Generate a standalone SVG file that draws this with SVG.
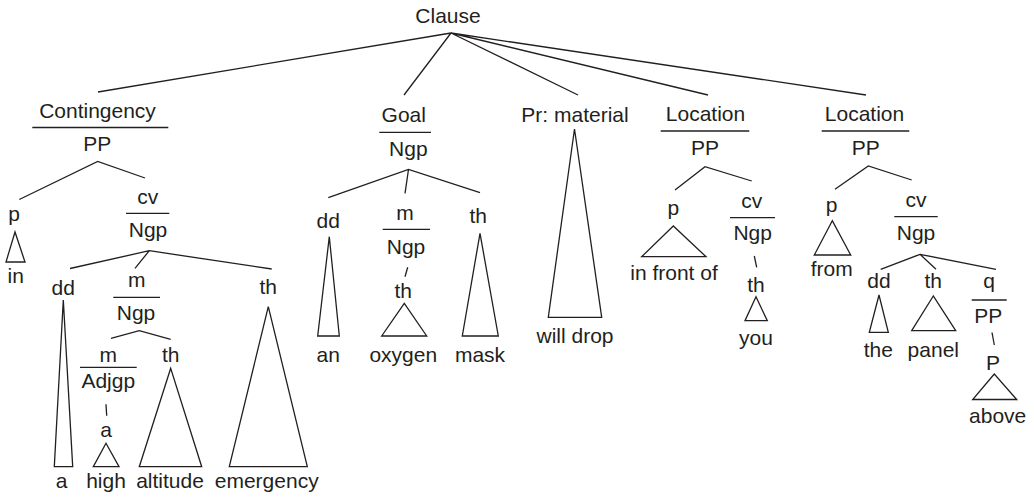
<svg xmlns="http://www.w3.org/2000/svg" width="1034" height="498" viewBox="0 0 1034 498">
<style>
text{font-family:"Liberation Sans",Arial,sans-serif;font-size:21px;fill:#231f20;text-anchor:middle}
.e{stroke:#231f20;stroke-width:1.3;fill:none}
.u{stroke:#231f20;stroke-width:1.3}
</style>
<rect width="1034" height="498" fill="#fff"/>
<g id="connectors" class="e">
<path d="M451 33L98 92M451 33L404 95M451 33L578 95M451 33L708 95M451 33L866 95"/>
<path d="M19.3 199.5L97.7 161.5L145 178"/>
<path d="M70 268.5L149.3 250.7L271.7 269M149.3 250.7L135 268.3"/>
<path d="M111 338.3L139.3 330.7L170.7 339.3"/>
<path d="M106 404.3L106.7 415.7"/>
<path d="M328.3 197.7L408.5 169.5L480 192.7M408.5 169.5L405 193.3"/>
<path d="M407.7 267.3L405 276.7"/>
<path d="M675 190L705 166.7L751.7 181"/>
<path d="M754.3 256L756.7 267.3"/>
<path d="M835 189.3L868.3 166L911.7 180"/>
<path d="M880.7 269.3L920 254.3L996 269.3M920 254.3L936 269.3"/>
<path d="M992 332.5L994.3 345"/>
<polygon points="15,232 6,262 25,262"/>
<polygon points="63.3,300 54.3,466.7 72.7,466.7"/>
<polygon points="106,443.3 93.3,466.7 119,466.7"/>
<polygon points="170.7,368.3 139.3,466.7 201.7,466.7"/>
<polygon points="268.3,306.7 229.3,466.7 307.3,466.7"/>
<polygon points="329.3,236.7 317.7,336 339.3,336"/>
<polygon points="404.3,303.3 381.7,336 426.7,336"/>
<polygon points="480,233.3 462.3,336 498.3,336"/>
<polygon points="574.5,129 548.3,317.3 601.7,317.3"/>
<polygon points="673.3,226 641.7,256.7 706,256.7"/>
<polygon points="756,296.7 745,320.7 767.3,320.7"/>
<polygon points="832.3,220.7 814.3,255 850.7,255"/>
<polygon points="879,295 869.3,332.3 888.3,332.3"/>
<polygon points="933.3,296 911.7,330.7 955.7,330.7"/>
<polygon points="994.3,374 972.7,399.5 1016.7,399.5"/>
</g>
<g id="clause"><text x="448" y="23">Clause</text></g>
<g id="contingency"><text x="97.5" y="118">Contingency</text><line class="u" x1="32.3" y1="127.5" x2="168.3" y2="127.5"/><text x="97.3" y="151">PP</text></g>
<g id="c-p"><text x="14" y="221">p</text></g>
<g id="c-in"><text x="15.7" y="282.5">in</text></g>
<g id="c-cv"><text x="147.7" y="204">cv</text><line class="u" x1="126" y1="213.3" x2="169.3" y2="213.3"/><text x="148" y="236.5">Ngp</text></g>
<g id="c-dd"><text x="63.3" y="295">dd</text></g>
<g id="c-m"><text x="136.7" y="286.7">m</text><line class="u" x1="113.3" y1="297.3" x2="160" y2="297.3"/><text x="136" y="320">Ngp</text></g>
<g id="c-m2"><text x="108.3" y="361.7">m</text><line class="u" x1="80" y1="367.3" x2="136.7" y2="367.3"/><text x="108.3" y="388.3">Adjgp</text></g>
<g id="c-a"><text x="106" y="436.7">a</text></g>
<g id="c-th1"><text x="170.7" y="361.7">th</text></g>
<g id="c-th2"><text x="268.3" y="294">th</text></g>
<g id="c-words"><text x="61.7" y="488.3">a</text><text x="106" y="488.3">high</text><text x="170" y="488.3">altitude</text><text x="266.7" y="488.3">emergency</text></g>
<g id="goal"><text x="403.8" y="121.5">Goal</text><line class="u" x1="379.3" y1="132.3" x2="431" y2="132.3"/><text x="408.3" y="155.5">Ngp</text></g>
<g id="g-dd"><text x="328.3" y="227.5">dd</text></g>
<g id="g-m"><text x="405" y="220">m</text><line class="u" x1="382.7" y1="229.3" x2="430" y2="229.3"/><text x="406" y="254">Ngp</text></g>
<g id="g-th1"><text x="403.3" y="298.3">th</text></g>
<g id="g-th2"><text x="478.3" y="223">th</text></g>
<g id="g-words"><text x="328.3" y="361.7">an</text><text x="403.3" y="361.7">oxygen</text><text x="480" y="361.7">mask</text></g>
<g id="process"><text x="575" y="121.5">Pr: material</text><text x="575" y="343.3">will drop</text></g>
<g id="location1"><text x="705.5" y="121">Location</text><line class="u" x1="660.7" y1="131" x2="749.3" y2="131"/><text x="705" y="154.5">PP</text></g>
<g id="l1-p"><text x="673.3" y="215">p</text><text x="674" y="280">in front of</text></g>
<g id="l1-cv"><text x="751.7" y="208.3">cv</text><line class="u" x1="730" y1="217.7" x2="775" y2="217.7"/><text x="752.7" y="240">Ngp</text></g>
<g id="l1-th"><text x="756" y="291.7">th</text><text x="756" y="345">you</text></g>
<g id="location2"><text x="864.5" y="121">Location</text><line class="u" x1="821.7" y1="131" x2="909.3" y2="131"/><text x="865.7" y="154.5">PP</text></g>
<g id="l2-p"><text x="831.7" y="211.7">p</text><text x="831.7" y="275.5">from</text></g>
<g id="l2-cv"><text x="916" y="206.7">cv</text><line class="u" x1="894.3" y1="216.7" x2="937.7" y2="216.7"/><text x="916" y="240">Ngp</text></g>
<g id="l2-dd"><text x="879" y="288.3">dd</text><text x="878.3" y="356.5">the</text></g>
<g id="l2-th"><text x="933.3" y="288.3">th</text><text x="933.3" y="356.5">panel</text></g>
<g id="l2-q"><text x="989" y="288.3">q</text><line class="u" x1="971.7" y1="300" x2="1006.7" y2="300"/><text x="988.3" y="323.3">PP</text></g>
<g id="l2-P"><text x="993" y="370">P</text><text x="997.7" y="423.3">above</text></g>
</svg>
